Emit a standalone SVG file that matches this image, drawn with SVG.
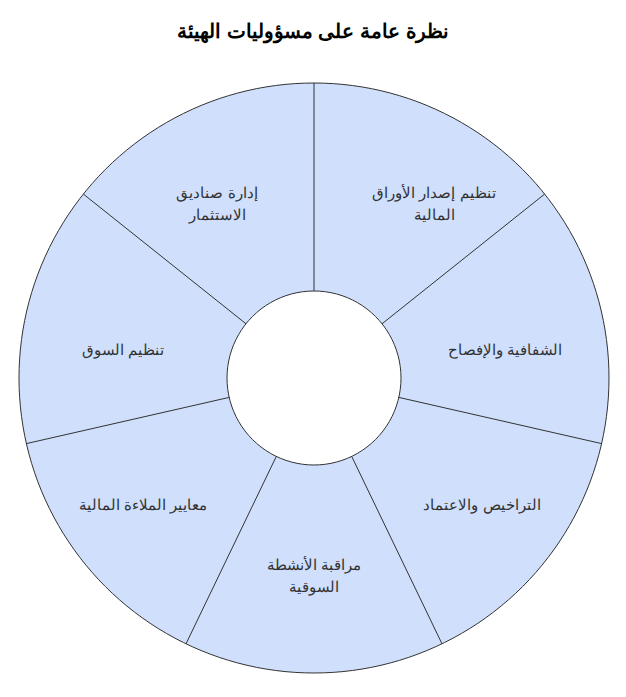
<svg xmlns="http://www.w3.org/2000/svg" width="626" height="697" viewBox="0 0 626 697">
<style>
.seg{fill:#cfdffc;stroke:#333;stroke-width:1}
.l{font-family:"Liberation Sans",Arial,sans-serif;font-size:15px;fill:#333;text-anchor:middle}
.t{font-family:"Liberation Sans",Arial,sans-serif;font-size:20px;font-weight:bold;fill:#000;text-anchor:middle}
</style>
<rect width="626" height="697" fill="#fff"/>
<text class="t" x="313" y="38">نظرة عامة على مسؤوليات الهيئة</text>
<g id="ring" transform="translate(0,-3)">
<path class="seg" fill-rule="evenodd" d="M314,86 A295,295 0 1,1 313.99,86 Z M314,294 A87,87 0 1,0 314.01,294 Z"/>
</g>
<g id="connectors" stroke="#333" stroke-width="1" transform="translate(0,-3)">
<line x1="314" y1="86" x2="314" y2="294"/>
<line x1="544.6" y1="197.1" x2="382" y2="326.8"/>
<line x1="601.6" y1="446.6" x2="398.8" y2="400.4"/>
<line x1="442" y1="646.8" x2="351.7" y2="459.4"/>
<line x1="186" y1="646.8" x2="276.3" y2="459.4"/>
<line x1="26.4" y1="446.6" x2="229.2" y2="400.4"/>
<line x1="83.4" y1="197.1" x2="246" y2="326.8"/>
</g>
<g id="n1"><text class="l" x="434" y="198">تنظيم إصدار الأوراق</text><text class="l" x="434" y="220">المالية</text></g>
<g id="n2"><text class="l" x="505" y="355">الشفافية والإفصاح</text></g>
<g id="n3"><text class="l" x="482" y="510">التراخيص والاعتماد</text></g>
<g id="n4"><text class="l" x="314" y="570">مراقبة الأنشطة</text><text class="l" x="314" y="592">السوقية</text></g>
<g id="n5"><text class="l" x="143" y="510">معايير الملاءة المالية</text></g>
<g id="n6"><text class="l" x="123" y="355">تنظيم السوق</text></g>
<g id="n7"><text class="l" x="217" y="198">إدارة صناديق</text><text class="l" x="217" y="220">الاستثمار</text></g>
</svg>
